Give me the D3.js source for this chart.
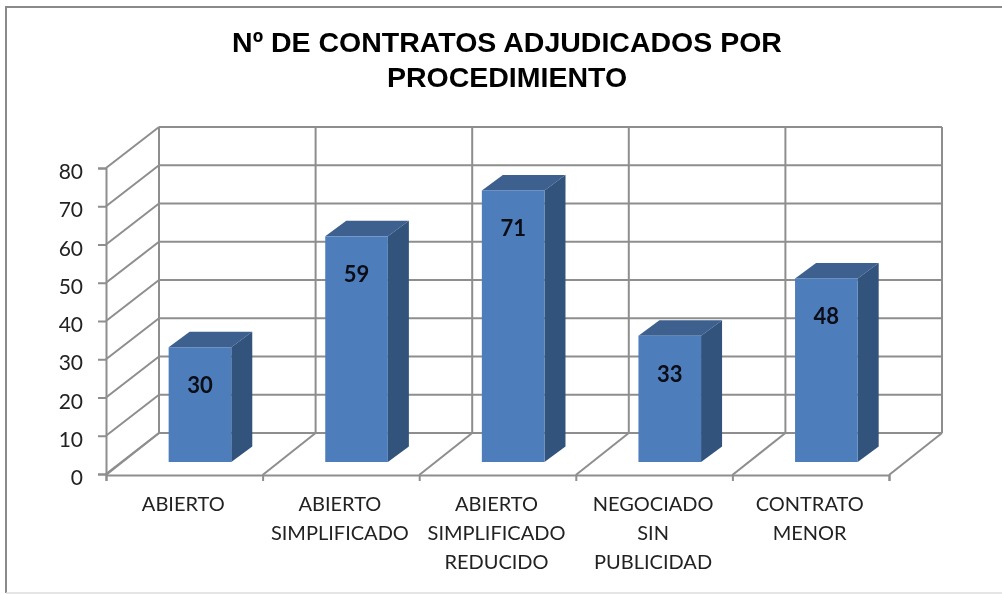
<!DOCTYPE html>
<html>
<head>
<meta charset="utf-8">
<script src="https://cdn.jsdelivr.net/npm/d3@7"></script>
<style>
  html, body { margin: 0; padding: 0; background: #fff; overflow: hidden; }
  svg { display: block; }
  .label { font-family: Lato, "Noto Sans", sans-serif; fill: #222; }
</style>
</head>
<body>
<div id="chart"></div>
<script>
var categories = ["ABIERTO", "ABIERTO\nSIMPLIFICADO", "ABIERTO\nSIMPLIFICADO\nREDUCIDO", "NEGOCIADO\nSIN\nPUBLICIDAD", "CONTRATO\nMENOR"];
var values = [30, 59, 71, 33, 48];
var yTicks = [0, 10, 20, 30, 40, 50, 60, 70, 80];
var titleLines = ["Nº DE CONTRATOS ADJUDICADOS POR", "PROCEDIMIENTO"];

var width = 1002, height = 594;
var gridColor = "#8e8e8e";

// depth of the box and of the bars
var wall = {dx: 53, dy: -41};
var barDepth = {dx: 21, dy: -15.5};

var svg = d3.select("#chart").append("svg")
  .attr("width", width)
  .attr("height", height);

// the source is a slightly soft screenshot
svg.append("filter").attr("id", "soft")
  .attr("x", 0).attr("y", 0).attr("width", 1).attr("height", 1)
  .attr("filterUnits", "objectBoundingBox")
  .append("feGaussianBlur").attr("stdDeviation", 0.45);

var root = svg.append("g").attr("filter", "url(#soft)");

root.append("rect")
  .attr("width", width).attr("height", height)
  .attr("fill", "#fff");

// chart frame, top and left are dark, the bottom is faint, no right side in view
root.append("path")
  .attr("fill", "none")
  .attr("stroke", "#8a8a8a")
  .attr("stroke-width", 2)
  .attr("d", d3.line()([[6, 593], [6, 7], [width, 7]]));

root.append("line")
  .attr("x1", 6).attr("x2", width)
  .attr("y1", 593).attr("y2", 593)
  .attr("stroke", "#dcdcdc")
  .attr("stroke-width", 1.5);

var x = d3.scaleBand().domain(categories).range([106, 889]);
var xEdge = d3.scaleLinear().domain([0, categories.length]).range([106, 889]);
var y = d3.scaleLinear().domain([0, 80]).range([474, 168]);
var yBar = d3.scaleLinear().domain([0, 80]).range([462, 156]);

var edges = d3.range(categories.length + 1);

// back wall
var grid = root.append("g")
  .attr("fill", "none")
  .attr("stroke", gridColor)
  .attr("stroke-width", 2);

grid.selectAll(".hline").data(yTicks).enter().append("line")
  .attr("class", "hline")
  .attr("x1", xEdge(0) + wall.dx).attr("x2", xEdge(5) + wall.dx)
  .attr("y1", function(d) { return y(d) + wall.dy; })
  .attr("y2", function(d) { return y(d) + wall.dy; });

grid.selectAll(".vline").data(edges).enter().append("line")
  .attr("class", "vline")
  .attr("x1", function(d) { return xEdge(d) + wall.dx; })
  .attr("x2", function(d) { return xEdge(d) + wall.dx; })
  .attr("y1", y(0) + wall.dy).attr("y2", y(80) + wall.dy);

// left wall diagonals
grid.selectAll(".ldiag").data(yTicks).enter().append("line")
  .attr("class", "ldiag")
  .attr("x1", xEdge(0)).attr("x2", xEdge(0) + wall.dx)
  .attr("y1", function(d) { return y(d); })
  .attr("y2", function(d) { return y(d) + wall.dy; });

// floor diagonals
grid.selectAll(".fdiag").data(edges).enter().append("line")
  .attr("class", "fdiag")
  .attr("x1", function(d) { return xEdge(d); })
  .attr("x2", function(d) { return xEdge(d) + wall.dx; })
  .attr("y1", y(0) + 1).attr("y2", y(0) + wall.dy);

// axes
var yAxis = root.append("g")
  .attr("transform", "translate(" + xEdge(0) + ",0)")
  .call(d3.axisLeft(y).tickValues(yTicks).tickSize(8).tickPadding(15));

var xAxis = root.append("g")
  .attr("transform", "translate(0," + (y(0) + 1) + ")")
  .call(d3.axisBottom(xEdge).tickValues(edges).tickSize(6).tickFormat(""));

root.selectAll(".domain").attr("stroke", gridColor).attr("stroke-width", 2);
root.selectAll(".tick line").attr("stroke", gridColor).attr("stroke-width", 2);

yAxis.selectAll("text")
  .attr("class", "label")
  .attr("dy", "0.5em")
  .style("font-size", "21px");

// bars
var barX = function(d) { return x(d.cat) + x.bandwidth() * 0.4; };
var barW = x.bandwidth() * 0.4;
var data = categories.map(function(c, i) { return {cat: c, value: values[i]}; });

var bars = root.selectAll(".bar").data(data).enter().append("g").attr("class", "bar");

bars.append("path")
  .attr("fill", "#3c618f")
  .attr("d", function(d) {
    var l = barX(d), t = yBar(d.value);
    return d3.line()([[l, t], [l + barDepth.dx, t + barDepth.dy], [l + barW + barDepth.dx, t + barDepth.dy], [l + barW, t]]) + "Z";
  });

bars.append("path")
  .attr("fill", "#31527c")
  .attr("d", function(d) {
    var r = barX(d) + barW, t = yBar(d.value), b = yBar(0);
    return d3.line()([[r, t], [r + barDepth.dx, t + barDepth.dy], [r + barDepth.dx, b + barDepth.dy], [r, b]]) + "Z";
  });

bars.append("rect")
  .attr("fill", "#4d7ebb")
  .attr("x", barX)
  .attr("y", function(d) { return yBar(d.value); })
  .attr("width", barW)
  .attr("height", function(d) { return yBar(0) - yBar(d.value); });

bars.append("text")
  .attr("x", function(d) { return barX(d) + barW / 2; })
  .attr("y", function(d) { return yBar(d.value) + 38; })
  .attr("dy", "0.36em")
  .attr("text-anchor", "middle")
  .attr("font-family", "Lato, 'Noto Sans', sans-serif")
  .attr("font-weight", "bold")
  .attr("font-size", "22px")
  .attr("fill", "#0a0a14")
  .text(function(d) { return d.value; });

// category labels
var catLabels = root.selectAll(".cat").data(categories).enter().append("text")
  .attr("class", "cat label")
  .attr("text-anchor", "middle")
  .style("font-size", "20px");

catLabels.selectAll("tspan")
  .data(function(d) { return d.split("\n").map(function(t) { return {text: t, cat: d}; }); })
  .enter().append("tspan")
  .attr("x", function(d) { return x(d.cat) + x.bandwidth() / 2 - 1; })
  .attr("y", function(d, i) { return 511 + i * 29; })
  .text(function(d) { return d.text; });

// title
root.selectAll(".title").data(titleLines).enter().append("text")
  .attr("class", "title")
  .attr("x", 507)
  .attr("y", function(d, i) { return 52 + i * 35; })
  .attr("text-anchor", "middle")
  .attr("font-family", "'Liberation Sans', Arial, sans-serif")
  .attr("font-weight", "bold")
  .attr("font-size", "28.5px")
  .attr("fill", "#000")
  .text(function(d) { return d; });
</script>
</body>
</html>
